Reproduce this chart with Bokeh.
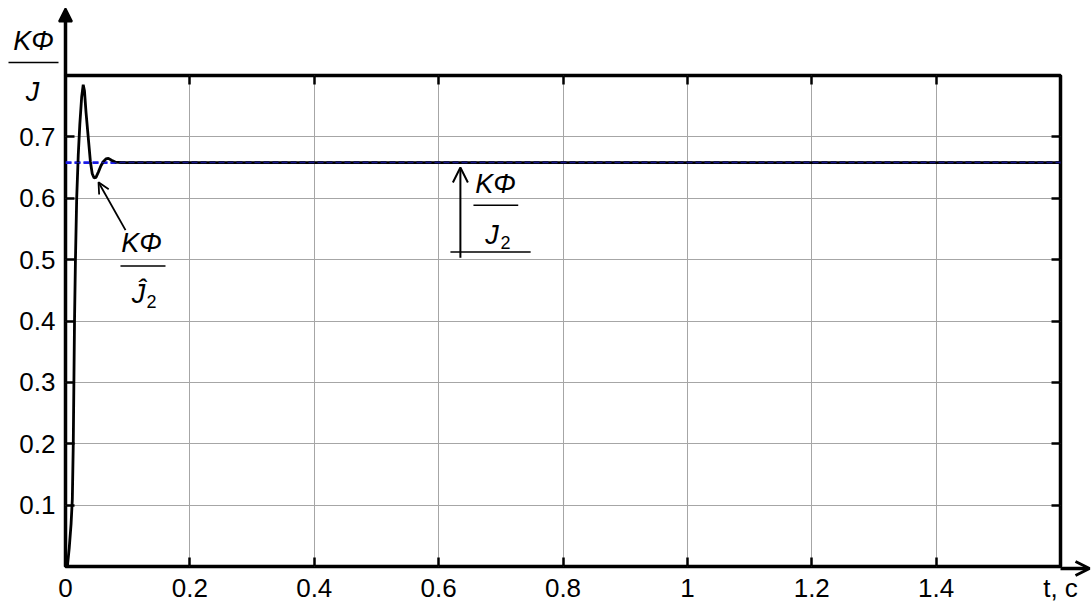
from bokeh.plotting import figure
from bokeh.models import Range1d, FixedTicker, LinearAxis, Label, Arrow, OpenHead, NormalHead
from bokeh.embed import file_html
from bokeh.resources import INLINE

# ---- data ----
t_vals = [0.0, 0.003, 0.006, 0.009, 0.011, 0.0125, 0.0145, 0.016, 0.018, 0.0205,
          0.023, 0.026, 0.0285, 0.0305, 0.033, 0.0365, 0.040, 0.043, 0.046, 0.049,
          0.053, 0.057, 0.061, 0.065, 0.069, 0.074, 0.080, 0.090, 0.2, 0.6, 1.0, 1.6]
kphi_hat = [0.0, 0.0, 0.03, 0.07, 0.11, 0.2, 0.4, 0.5, 0.6, 0.67,
            0.72, 0.765, 0.785, 0.775, 0.74, 0.70, 0.66, 0.64, 0.633, 0.634,
            0.643, 0.653, 0.660, 0.664, 0.665, 0.662, 0.659, 0.658, 0.658, 0.658, 0.658, 0.658]
t_ref = [0.0, 1.6]
kphi_ref = [0.658, 0.658]

x_ticks = [0, 0.2, 0.4, 0.6, 0.8, 1.0, 1.2, 1.4, 1.6]
x_tick_labels = ["0", "0.2", "0.4", "0.6", "0.8", "1", "1.2", "1.4", "t, c"]
y_ticks = [0, 0.1, 0.2, 0.3, 0.4, 0.5, 0.6, 0.7, 0.8]
y_tick_labels = ["", "0.1", "0.2", "0.3", "0.4", "0.5", "0.6", "0.7", ""]

FONT = "Liberation Sans"
W, H = 1091, 605
FL, FR, FT, FB = 65, 1060, 75, 568   # frame box in canvas pixels

p = figure(width=W, height=H, output_backend="svg", toolbar_location=None,
           x_range=Range1d(0, 1.6), y_range=Range1d(0, 0.8),
           x_axis_location=None, y_axis_location=None,
           min_border_left=FL, min_border_right=W - FR, min_border_top=FT,
           min_border_bottom=H - FB)
p.background_fill_color = "white"
p.border_fill_color = "white"
p.outline_line_color = "black"
p.outline_line_width = 3.5

xt = FixedTicker(ticks=x_ticks, minor_ticks=[])
yt = FixedTicker(ticks=y_ticks, minor_ticks=[])


def make_axis(ticker, labels, ticks, show):
    ax = LinearAxis(ticker=ticker)
    ax.axis_line_color = None
    ax.major_tick_in = 9
    ax.major_tick_out = 0
    ax.major_tick_line_width = 2.5
    ax.major_tick_line_color = "black"
    ax.minor_tick_line_color = None
    if show:
        ax.major_label_overrides = {k: v for k, v in zip(ticks, labels)}
        ax.major_label_text_font = FONT
        ax.major_label_text_font_size = "26px"
        ax.major_label_text_color = "black"
    else:
        ax.major_label_overrides = {k: "" for k in ticks}
        ax.major_label_text_font_size = "0px"
        ax.major_label_standoff = 0
    return ax


bx = make_axis(xt, x_tick_labels, x_ticks, True)
bx.major_label_standoff = 6
ly = make_axis(yt, y_tick_labels, y_ticks, True)
ly.major_label_standoff = 10
p.add_layout(bx, "below")
p.add_layout(ly, "left")
p.add_layout(make_axis(xt, x_tick_labels, x_ticks, False), "above")
p.add_layout(make_axis(yt, y_tick_labels, y_ticks, False), "right")

p.xgrid.ticker = xt
p.ygrid.ticker = yt
for g in (p.xgrid, p.ygrid):
    g.grid_line_color = "#a6a6a6"
    g.grid_line_width = 1

# series: reference level (blue dashed) and estimate (black)
p.line(t_ref, kphi_ref, line_color="#1a1aff", line_width=2.8, line_dash="6 3")
p.line(t_vals, kphi_hat, line_color="black", line_width=2.8)
p.line(t_ref, kphi_ref, line_color="#2020c0", line_width=1.2, line_dash="6 3", line_alpha=0.7)


def lab(fig, x, y, text, size="27px", italic=True):
    fig.add_layout(Label(x=x, y=y, text=text, text_font=FONT, text_font_size=size,
                         text_font_style="italic" if italic else "normal",
                         text_align="center", text_baseline="middle", text_color="black"))


def seg(fig, x0, y0, x1, y1, w=1.5):
    fig.add_layout(Arrow(x_start=x0, y_start=y0, x_end=x1, y_end=y1,
                         line_width=w, line_color="black", end=None))


# annotation: estimated K\u03a6 / \u0134_2
lab(p, 0.1222, 0.527, "K\u03a6")
seg(p, 0.0884, 0.4898, 0.1608, 0.4898)
lab(p, 0.1174, 0.4444, "\u0134")
lab(p, 0.1385, 0.432, "2", size="18px", italic=False)
p.add_layout(Arrow(x_start=0.0965, y_start=0.548, x_end=0.0531, y_end=0.626,
                   line_width=1.8, end=OpenHead(size=11, line_width=1.8)))

# annotation: K\u03a6 / J_2
p.add_layout(Arrow(x_start=0.635, y_start=0.503, x_end=0.635, y_end=0.650,
                   line_width=2, end=OpenHead(size=15, line_width=2)))
seg(p, 0.619, 0.5125, 0.748, 0.5125)
lab(p, 0.6914, 0.6228, "K\u03a6")
seg(p, 0.656, 0.5887, 0.728, 0.5887)
lab(p, 0.686, 0.540, "J")
lab(p, 0.7075, 0.528, "2", size="18px", italic=False)

# ---- transparent overlay (canvas pixels) for the parts outside the plot box ----
ov = figure(width=W, height=H, output_backend="svg", toolbar_location=None,
            x_range=Range1d(0, W), y_range=Range1d(H, 0),
            x_axis_location=None, y_axis_location=None, min_border=0)
ov.xgrid.visible = False
ov.ygrid.visible = False
ov.background_fill_alpha = 0
ov.border_fill_alpha = 0
ov.outline_line_color = None
ov.styles = {"position": "absolute", "top": "0px", "left": "0px"}

# axis arrows
ov.add_layout(Arrow(x_start=FL, y_start=FT, x_end=FL, y_end=8, line_width=3.5,
                    end=NormalHead(size=13, line_width=2, fill_color="black")))
ov.add_layout(Arrow(x_start=FR, y_start=FB, x_end=1089, y_end=FB, line_width=3.5,
                    end=OpenHead(size=14, line_width=3)))
# y-axis title  K\u03a6 / J
lab(ov, 33, 40, "K\u03a6")
seg(ov, 8, 62, 58, 62)
lab(ov, 32, 91, "J")

open("out.html", "w").write(file_html([p, ov], INLINE))
